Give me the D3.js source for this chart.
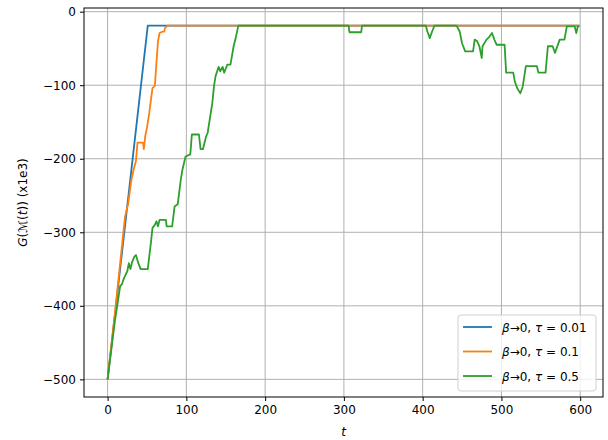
<!DOCTYPE html>
<html>
<head>
<meta charset="utf-8">
<script src="https://cdn.jsdelivr.net/npm/d3@7"></script>
<style>
  body { margin: 0; background: #fff; }
  svg text { font-family: "DejaVu Sans", sans-serif; }
</style>
</head>
<body>
<div id="chart"></div>
<script>
// values (t, G in units of 1e3)
const blueT = [0, 51, 599];
const blueG = [-500, -19, -19];

const orangeT = [0, 10, 22, 24, 26, 28, 30, 33, 36, 38, 45, 46, 48, 50, 53, 55, 57, 60, 62, 64, 66, 70, 72, 73, 76, 599];
const orangeG = [-500, -403, -280, -270, -262, -246, -230, -215, -203, -178, -178, -187, -168, -158, -137, -120, -104, -101, -70, -40, -29, -27, -27, -22, -19, -19];

const greenT = [0, 9, 16, 18, 21, 25, 27, 29, 31, 34, 36, 39, 42, 51, 55, 57, 60, 62, 64, 66, 74, 75, 82, 85, 89, 93,
  95, 99, 105, 107, 116, 118, 121, 125, 127, 133, 135, 137, 141, 143, 146, 148, 152, 156, 160, 163, 166,
  306, 307, 322, 323, 404, 406, 409, 412, 415, 443, 447, 450, 454, 464, 466, 469, 472, 475, 476, 481, 484,
  488, 491, 494, 504, 506, 515, 517, 520, 524, 527, 531, 545, 547, 556, 559, 565, 568, 574, 580, 583, 593,
  595, 597, 599];
const greenG = [-500, -423, -373, -371, -362, -353, -342, -350, -341, -333, -331, -342, -350, -350, -314, -294, -290, -285, -292, -283, -283, -292, -292, -265, -262, -228,
  -215, -197, -194, -167, -167, -187, -187, -170, -165, -124, -102, -88, -75, -81, -75, -83, -72, -72, -47, -34, -19,
  -19, -28, -28, -19, -19, -27, -36, -27, -19, -19, -27, -43, -54, -54, -38, -40, -47, -63, -47, -38, -35,
  -29, -38, -45, -45, -83, -83, -95, -104, -111, -102, -74, -74, -83, -83, -47, -47, -56, -38, -38, -20, -20,
  -29, -20, -20];

const xTicks = [0, 100, 200, 300, 400, 500, 600];
const yTicks = [0, -100, -200, -300, -400, -500];
const seriesTau = ["0.01", "0.1", "0.5"];
const colors = ["#1f77b4", "#ff7f0e", "#2ca02c"];

const W = 608, H = 440;
const margin = {top: 8, right: 5, bottom: 43, left: 84};
const width = W - margin.left - margin.right;
const height = H - margin.top - margin.bottom;

const svg = d3.select("#chart").append("svg")
  .attr("width", W).attr("height", H);

const g = svg.append("g")
  .attr("transform", "translate(" + margin.left + "," + margin.top + ")");

const x = d3.scaleLinear().domain([-29.95, 628.95]).range([0, width]);
const y = d3.scaleLinear().domain([-524, 5]).range([height, 0]);

// grid
g.append("g").selectAll("line").data(xTicks).enter().append("line")
  .attr("x1", d => x(d)).attr("x2", d => x(d))
  .attr("y1", 0).attr("y2", height)
  .attr("stroke", "#b0b0b0").attr("stroke-width", 1);
g.append("g").selectAll("line").data(yTicks).enter().append("line")
  .attr("y1", d => y(d)).attr("y2", d => y(d))
  .attr("x1", 0).attr("x2", width)
  .attr("stroke", "#b0b0b0").attr("stroke-width", 1);

// lines
const series = [[blueT, blueG], [orangeT, orangeG], [greenT, greenG]];
const line = d3.line().x(d => x(d[0])).y(d => y(d[1]));
series.forEach((s, i) => {
  const pts = s[0].map((t, k) => [t, s[1][k]]);
  g.append("path").datum(pts)
    .attr("d", line)
    .attr("fill", "none")
    .attr("stroke", colors[i])
    .attr("stroke-width", 1.8)
    .attr("stroke-linejoin", "round");
});

// axes
const fmt = d => d < 0 ? "\u2212" + Math.abs(d) : "" + d;
const xAxis = g.append("g").attr("transform", "translate(0," + height + ")")
  .call(d3.axisBottom(x).tickValues(xTicks).tickFormat(fmt).tickSize(4).tickPadding(4));
const yAxis = g.append("g")
  .call(d3.axisLeft(y).tickValues(yTicks).tickFormat(fmt).tickSize(4).tickPadding(4));
[xAxis, yAxis].forEach(a => {
  a.select(".domain").remove();
  a.selectAll("text").attr("font-size", 12).attr("fill", "#000")
    .style("font-family", "DejaVu Sans");
  a.selectAll("line").attr("stroke", "#000").attr("stroke-width", 1);
});

// frame
g.append("rect").attr("width", width).attr("height", height)
  .attr("fill", "none").attr("stroke", "#000").attr("stroke-width", 1);

// axis labels
svg.append("text")
  .attr("x", margin.left + width / 2).attr("y", 436)
  .attr("text-anchor", "middle").attr("font-size", 12)
  .attr("font-style", "italic").text("t");

const yl = svg.append("text")
  .attr("transform", "translate(27," + (margin.top + height / 2) + ") rotate(-90)")
  .attr("text-anchor", "middle").attr("font-size", 12);
yl.append("tspan").attr("font-style", "italic").text("G");
yl.append("tspan").text("(\u2133(");
yl.append("tspan").attr("font-style", "italic").text("t");
yl.append("tspan").text(")) (x1e3)");

// legend
const lg = svg.append("g");
lg.append("rect")
  .attr("x", 458).attr("y", 315).attr("width", 138).attr("height", 76)
  .attr("rx", 3).attr("fill", "#fff").attr("fill-opacity", 0.8)
  .attr("stroke", "#d0d0d0").attr("stroke-width", 1);
seriesTau.forEach((tau, i) => {
  const ly = 327 + i * 24.5;
  lg.append("line")
    .attr("x1", 463).attr("x2", 492).attr("y1", ly).attr("y2", ly)
    .attr("stroke", colors[i]).attr("stroke-width", 1.8);
  const t = lg.append("text").attr("x", 502).attr("y", ly + 4.5).attr("font-size", 12);
  t.append("tspan").attr("font-style", "italic").text("\u03b2");
  t.append("tspan").text("\u21920, ");
  t.append("tspan").attr("font-style", "italic").text("\u03c4");
  t.append("tspan").text(" = " + tau);
});
</script>
</body>
</html>
